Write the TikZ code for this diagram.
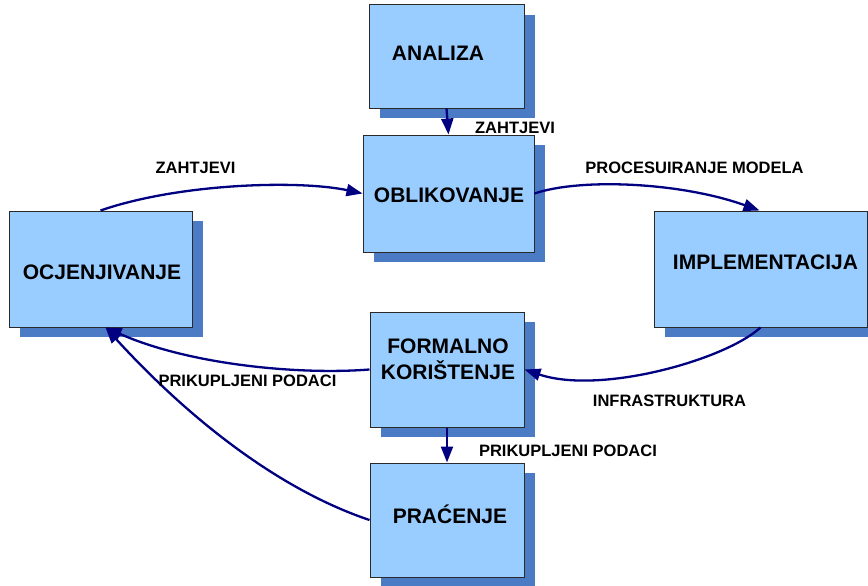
\documentclass[tikz,border=0pt]{standalone}
\usepackage{fontspec}
\setmainfont{Liberation Sans}
\usetikzlibrary{arrows.meta,shadows}

\definecolor{boxfill}{HTML}{99CCFF}
\definecolor{boxshade}{HTML}{4A7BC4}
\definecolor{flowc}{HTML}{000080}
\definecolor{boxline}{HTML}{2A2A2A}

\tikzset{
  box/.style={rectangle, draw=boxline, line width=1pt, fill=boxfill, inner sep=0pt,
    drop shadow={shadow xshift=11pt, shadow yshift=-10pt, fill=boxshade, opacity=1}},
  boxlabel/.style={font=\fontsize{21}{26}\selectfont\bfseries, text height=15pt,
    text depth=0pt, inner sep=0pt, align=center},
  flowlabel/.style={font=\fontsize{16.5}{20}\selectfont\bfseries, text height=11.8pt,
    text depth=0pt, inner sep=0pt},
  flow/.style={draw=flowc, line width=2.3pt, -{Triangle[length=16pt,width=12pt]}},
}

\begin{document}
\begin{tikzpicture}[x=1pt, y=-1pt]
  \useasboundingbox (0,0) rectangle (868,586);
  \clip (0,0) rectangle (868,586);

  % process boxes
  \node[box, minimum width=155pt, minimum height=103pt] (analiza) at (446.5,56.5) {};
  \node[box, minimum width=171pt, minimum height=117pt] (oblik) at (448.5,193.5) {};
  \node[box, minimum width=183pt, minimum height=116pt] (ocj) at (100.5,269) {};
  \node[box, minimum width=213pt, minimum height=116pt] (impl) at (760.5,269) {};
  \node[box, minimum width=154pt, minimum height=115pt] (formal) at (447,369.5) {};
  \node[box, minimum width=154pt, minimum height=114pt] (prac) at (447,520) {};

  % connectors
  \draw[flow] (analiza.south) -- (oblik.north);
  \draw[flow] (ocj.north) .. controls (180,183) and (300,180) .. (oblik.west);
  \draw[flow] (oblik.east) .. controls (580,178) and (680,182) .. ([xshift=-1pt]impl.north);
  \draw[flow] (impl.south) .. controls (725,360) and (600,395) .. (formal.east);
  \draw[flow] (formal.west) .. controls (300,375) and (190,365) .. ([xshift=5pt]ocj.south);
  \draw[flow] (formal.south) -- (prac.north);
  \draw[flow] (prac.west) .. controls (280,490) and (190,420) .. ([xshift=5pt]ocj.south);

  % box titles
  \node[boxlabel] (tAnaliza) at (438,53) {ANALIZA};
  \node[boxlabel] (tOblik) at (449,195) {OBLIKOVANJE};
  \node[boxlabel] (tOcj) at (102,272) {OCJENJIVANJE};
  \node[boxlabel] (tImpl) at (765.5,262) {IMPLEMENTACIJA};
  \node[boxlabel] (tFormal) at (448,372) {FORMALNO\\KORIŠTENJE};
  \node[boxlabel] (tPrac) at (450,516) {PRAĆENJE};

  % connector labels
  \node[flowlabel] (lZahtjeviA) at (515,127.5) {ZAHTJEVI};
  \node[flowlabel] (lZahtjeviB) at (195.5,167.5) {ZAHTJEVI};
  \node[flowlabel] (lProc) at (694.5,167.5) {PROCESUIRANJE MODELA};
  \node[flowlabel] (lInfra) at (669.5,401) {INFRASTRUKTURA};
  \node[flowlabel] (lPodaciA) at (247.5,381) {PRIKUPLJENI PODACI};
  \node[flowlabel] (lPodaciB) at (568,451) {PRIKUPLJENI PODACI};
\end{tikzpicture}
\end{document}
